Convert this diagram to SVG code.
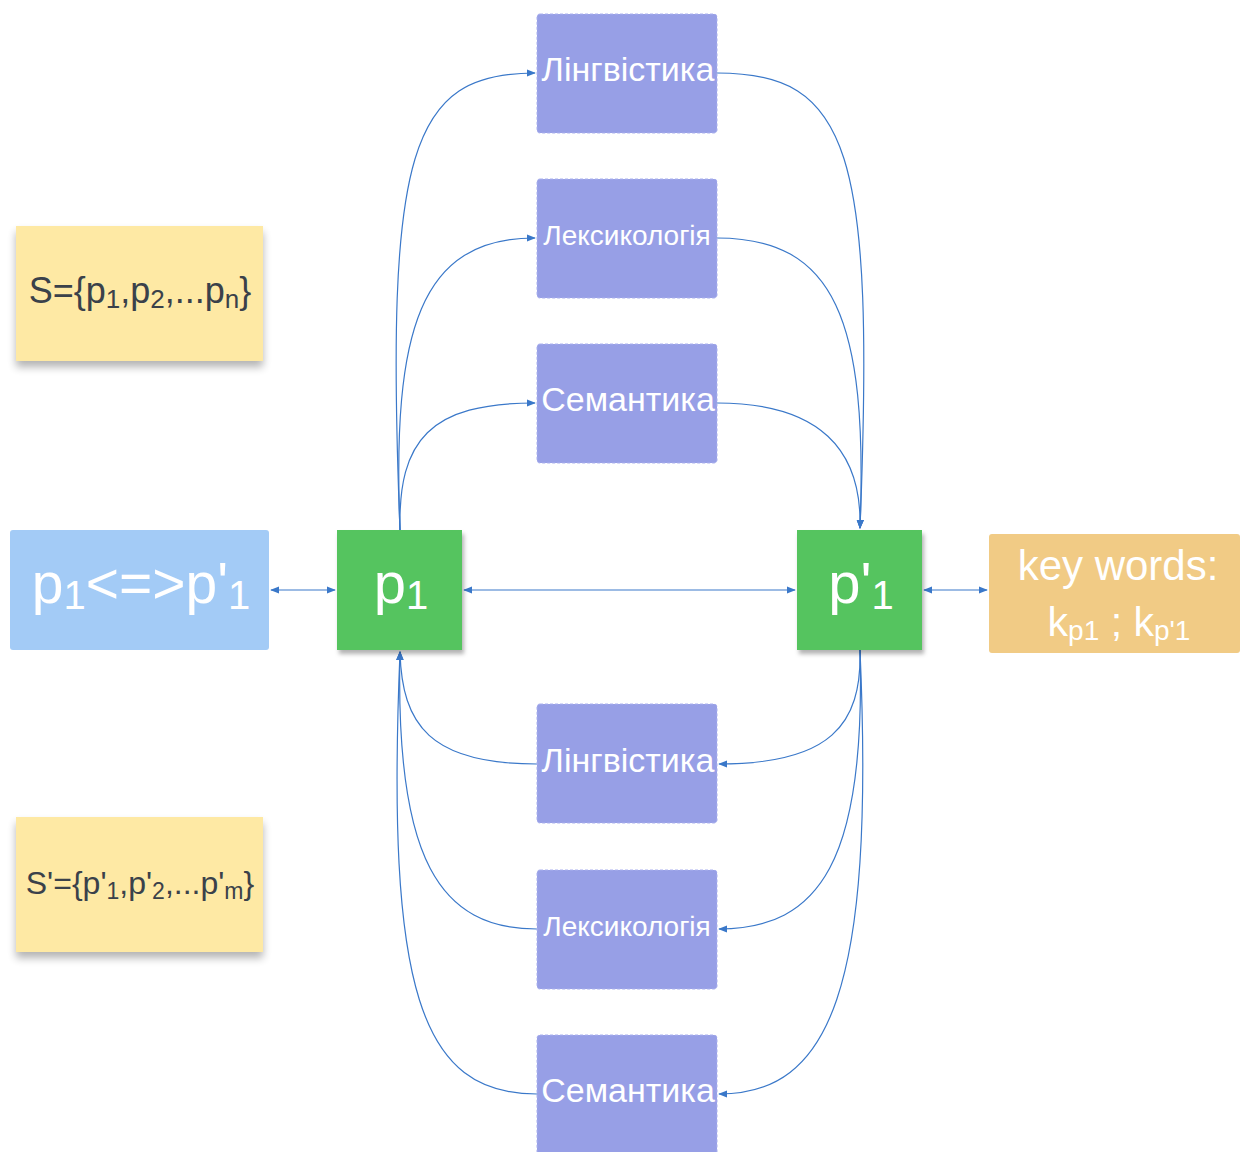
<svg xmlns="http://www.w3.org/2000/svg" width="1240" height="1152" viewBox="0 0 1240 1152">
<style>
.purple{fill:#979fe6;stroke:#aab1ee;stroke-width:1;stroke-dasharray:3 2}
.green{fill:#54c45e}
.wt{fill:#ffffff;font-family:"Liberation Sans",Arial,sans-serif;text-anchor:middle}
.dt{fill:#3a414a;font-family:"Liberation Sans",Arial,sans-serif;text-anchor:middle}
.con{fill:none;stroke:#3a78c9;stroke-width:1.2}
</style>
<defs>
<marker id="ah" viewBox="0 0 10 10" refX="9" refY="5" markerWidth="9" markerHeight="9" markerUnits="userSpaceOnUse" orient="auto-start-reverse">
<path d="M0,1 L10,5 L0,9 z" fill="#3a78c9"/>
</marker>
<filter id="sh" x="-10%" y="-10%" width="120%" height="130%">
<feDropShadow dx="2" dy="4" stdDeviation="2" flood-color="#000" flood-opacity="0.3"/>
</filter>
<filter id="sh2" x="-10%" y="-10%" width="120%" height="130%">
<feGaussianBlur in="SourceAlpha" stdDeviation="4"/>
<feOffset dx="0" dy="6" result="b"/>
<feComponentTransfer in="b" result="c"><feFuncA type="linear" slope="0.3"/></feComponentTransfer>
<feMerge><feMergeNode in="c"/><feMergeNode in="SourceGraphic"/></feMerge>
</filter>
</defs>
<rect width="1240" height="1152" fill="#ffffff"/>

<g id="connectors">
<path class="con" d="M400,530 C385,150 410,73 535,73" marker-end="url(#ah)"/>
<path class="con" d="M400,530 C392,330 420,238 535,238" marker-end="url(#ah)"/>
<path class="con" d="M400,530 C398,440 430,403 535,403" marker-end="url(#ah)"/>
<path class="con" d="M717,73 C850,73 875,150 860,528" marker-end="url(#ah)"/>
<path class="con" d="M717,238 C835,238 868,320 860,528" marker-end="url(#ah)"/>
<path class="con" d="M717,403 C820,403 862,450 860,528" marker-end="url(#ah)"/>
<path class="con" d="M860,650 C862,725 830,764 719,764" marker-end="url(#ah)"/>
<path class="con" d="M860,650 C866,860 820,929 719,929" marker-end="url(#ah)"/>
<path class="con" d="M860,650 C875,990 830,1094 719,1094" marker-end="url(#ah)"/>
<path class="con" d="M537,764 C430,764 402,725 400,652" marker-end="url(#ah)"/>
<path class="con" d="M537,929 C440,929 395,860 400,652" marker-end="url(#ah)"/>
<path class="con" d="M537,1094 C420,1094 386,990 400,652" marker-end="url(#ah)"/>
<path class="con" d="M464,590 L795,590" marker-start="url(#ah)" marker-end="url(#ah)"/>
<path class="con" d="M271,590 L335,590" marker-start="url(#ah)" marker-end="url(#ah)"/>
<path class="con" d="M924,590 L987,590" marker-start="url(#ah)" marker-end="url(#ah)"/>
</g>

<g id="s-set">
<rect x="16" y="226" width="247" height="135" fill="#fee9a4" filter="url(#sh2)"/>
<text class="dt" x="140" y="303" font-size="36">S={p<tspan font-size="26" dy="5">1</tspan><tspan dy="-5">,p</tspan><tspan font-size="26" dy="5">2</tspan><tspan dy="-5">,...p</tspan><tspan font-size="26" dy="5">n</tspan><tspan dy="-5">}</tspan></text>
</g>

<g id="s2-set">
<rect x="16" y="817" width="247" height="135" fill="#fee9a4" filter="url(#sh2)"/>
<text class="dt" x="140" y="894" font-size="32">S'={p'<tspan font-size="23" dy="5">1</tspan><tspan dy="-5">,p'</tspan><tspan font-size="23" dy="5">2</tspan><tspan dy="-5">,...p'</tspan><tspan font-size="23" dy="5">m</tspan><tspan dy="-5">}</tspan></text>
</g>

<g id="equiv">
<rect x="10" y="530" width="259" height="120" rx="3" fill="#a3cbf6"/>
<text class="wt" x="141" y="603" font-size="57">p<tspan font-size="40" dy="6">1</tspan><tspan dy="-6">&lt;=&gt;p'</tspan><tspan font-size="40" dy="6">1</tspan></text>
</g>

<g id="p1">
<rect x="337" y="530" width="125" height="120" class="green" filter="url(#sh)"/>
<text class="wt" x="401" y="603" font-size="58">p<tspan font-size="40" dy="6">1</tspan></text>
</g>

<g id="p1prime">
<rect x="797" y="530" width="125" height="120" class="green" filter="url(#sh)"/>
<text class="wt" x="861" y="603" font-size="58">p'<tspan font-size="40" dy="6">1</tspan></text>
</g>

<g id="keywords">
<rect x="989" y="534" width="251" height="119" rx="3" fill="#f1cb85"/>
<text class="wt" x="1118" y="580" font-size="42">key words:</text>
<text class="wt" x="1119" y="636" font-size="41">k<tspan font-size="28" dy="4">p1</tspan><tspan dy="-4"> ; k</tspan><tspan font-size="28" dy="4">p'1</tspan></text>
</g>

<g id="ling-top">
<rect x="537" y="14" width="180" height="119" rx="3" class="purple"/>
<text class="wt" x="628" y="81" font-size="34">Лінгвістика</text>
</g>
<g id="lex-top">
<rect x="537" y="179" width="180" height="119" rx="3" class="purple"/>
<text class="wt" x="627" y="245" font-size="28">Лексикологія</text>
</g>
<g id="sem-top">
<rect x="537" y="344" width="180" height="119" rx="3" class="purple"/>
<text class="wt" x="628" y="411" font-size="34">Семантика</text>
</g>
<g id="ling-bot">
<rect x="537" y="704" width="180" height="119" rx="3" class="purple"/>
<text class="wt" x="628" y="772" font-size="34">Лінгвістика</text>
</g>
<g id="lex-bot">
<rect x="537" y="870" width="180" height="119" rx="3" class="purple"/>
<text class="wt" x="627" y="936" font-size="28">Лексикологія</text>
</g>
<g id="sem-bot">
<rect x="537" y="1035" width="180" height="125" rx="3" class="purple"/>
<text class="wt" x="628" y="1102" font-size="34">Семантика</text>
</g>
</svg>
